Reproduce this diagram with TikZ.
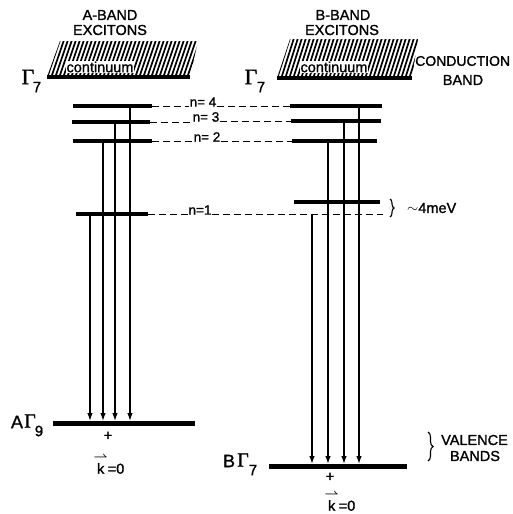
\documentclass[tikz,border=0pt]{standalone}
\usepackage{amsmath}
\usepackage{fontspec}
\setmainfont[FakeBold=1.3]{Liberation Sans}
\newfontfamily\serifgr[FakeBold=1.2]{Liberation Serif}
\usetikzlibrary{decorations.pathreplacing,arrows.meta}
\newcommand\kvecz{$\overset{\scalebox{0.85}{$\boldsymbol{\rightharpoonup}$}}{\mbox{k}}$=0}
\tikzset{
  lbl/.style={inner sep=0pt, font=\fontsize{14.5}{16}\selectfont},
  nlbl/.style={inner sep=0pt, font=\fontsize{13.5}{14}\selectfont},
  sub/.style={inner sep=0pt, font=\fontsize{15}{16}\selectfont},
  gam/.style={inner sep=0pt, font=\serifgr\fontsize{22}{24}\selectfont},
  level/.style={line width=3.2pt},
  band/.style={line width=4.6pt},
  vband/.style={line width=5pt},
  trans/.style={line width=1.2pt, -{Latex[length=8pt,width=5.5pt]}},
  dashl/.style={line width=1pt, dash pattern=on 7pt off 4pt},
  hatch/.style={line width=1.7pt},
  contbox/.style={fill=white, inner sep=1pt, font=\fontsize{14.5}{16}\selectfont},
  brc/.style={line width=1.1pt, decorate, decoration={brace, amplitude=4pt}}
}
\begin{document}
\begin{tikzpicture}[x=1pt, y=-1pt]
\useasboundingbox (0,0) rectangle (513,514);
% headings
\node[lbl] (ahead1) at (110,15) {A-BAND};
\node[lbl] (ahead2) at (110,30) {EXCITONS};
\node[lbl] (bhead1) at (343,15) {B-BAND};
\node[lbl] (bhead2) at (342,30) {EXCITONS};
\node[lbl, anchor=west, font=\fontsize{14}{16}\selectfont] (cond1) at (415,61) {CONDUCTION};
\node[lbl] (cond2) at (463,80) {BAND};
% hatching
\begin{scope}
\clip (47,77) -- (190,77) -- (198,41) -- (60,41) -- cycle;
\foreach \i in {0,...,40} \draw[hatch] ({35+\i*4},78) -- ++(13,-38);
\end{scope}
\begin{scope}
\clip (277,78) -- (412,78) -- (418,39) -- (290,39) -- cycle;
\foreach \i in {0,...,38} \draw[hatch] ({265+\i*4},79) -- ++(13,-41);
\end{scope}
\node[contbox] (conta) at (100,67) {continuum};
\node[contbox] (contb) at (334,67) {continuum};
% conduction band edges
\coordinate (ca1) at (47,77); \coordinate (ca2) at (190,77);
\coordinate (cb1) at (277,78); \coordinate (cb2) at (412,78);
\draw[band] (ca1) -- (ca2);
\draw[band] (cb1) -- (cb2);
\node[gam] (ga) at (28,77) {Γ};
\node[sub] (ga7) at (37,87) {7};
\node[gam] (gb) at (251,77) {Γ};
\node[sub] (gb7) at (261,87) {7};
% A levels
\coordinate (a4l) at (73,106); \coordinate (a4r) at (152,106);
\coordinate (a3l) at (72,122); \coordinate (a3r) at (150,122);
\coordinate (a2l) at (73,141); \coordinate (a2r) at (152,141);
\coordinate (a1l) at (76,214); \coordinate (a1r) at (148,214);
\draw[level] (a4l) -- (a4r);
\draw[level] (a3l) -- (a3r);
\draw[level] (a2l) -- (a2r);
\draw[level] (a1l) -- (a1r);
% B levels
\coordinate (b4l) at (290,106); \coordinate (b4r) at (382,106);
\coordinate (b3l) at (291,121); \coordinate (b3r) at (381,121);
\coordinate (b2l) at (292,141); \coordinate (b2r) at (377,141);
\coordinate (b1l) at (294,202); \coordinate (b1r) at (380,202);
\draw[level] (b4l) -- (b4r);
\draw[level] (b3l) -- (b3r);
\draw[level] (b2l) -- (b2r);
\draw[level] (b1l) -- (b1r);
% n labels and dashed lines
\node[nlbl] (n4) at (203,102) {n= 4};
\node[nlbl] (n3) at (206,117) {n= 3};
\node[nlbl] (n2) at (207,137) {n= 2};
\node[nlbl] (n1) at (200,210) {n=1};
\coordinate (d1e) at (383,214);
\draw[dashl] (a4r) -- (n4.west |- a4r);
\draw[dashl] (n4.east |- a4r) -- (b4l);
\draw[dashl] (a3r) -- (n3.west |- a3r);
\draw[dashl] (n3.east |- b3l) -- (b3l);
\draw[dashl] (a2r) -- (n2.west |- a2r);
\draw[dashl] (n2.east |- a2r) -- (b2l);
\draw[dashl] (a1r) -- (n1.west |- a1r);
\draw[dashl] (n1.east |- a1r) -- (d1e);
\coordinate (br1t) at (390,199); \coordinate (br1b) at (390,217);
\draw[brc] (br1t) -- (br1b);
\node[lbl, anchor=west] (mev) at (407,208) {$\sim$4meV};
% valence bands
\coordinate (va1) at (53,423); \coordinate (va2) at (195,423);
\coordinate (vb1) at (269,466); \coordinate (vb2) at (407,466);
\draw[vband] (va1) -- (va2);
\draw[vband] (vb1) -- (vb2);
% A transitions
\coordinate (ta4) at (130,106); \coordinate (ea4) at (130,421);
\coordinate (ta3) at (115,122); \coordinate (ea3) at (115,421);
\coordinate (ta2) at (103,141); \coordinate (ea2) at (103,421);
\coordinate (ta1) at (90,214);  \coordinate (ea1) at (90,421);
\draw[trans] (ta4) -- (ea4);
\draw[trans] (ta3) -- (ea3);
\draw[trans] (ta2) -- (ea2);
\draw[trans] (ta1) -- (ea1);
% B transitions
\coordinate (tb4) at (359,106); \coordinate (eb4) at (359,464);
\coordinate (tb3) at (344,121); \coordinate (eb3) at (344,464);
\coordinate (tb2) at (328,141); \coordinate (eb2) at (328,464);
\coordinate (tb1) at (312,214); \coordinate (eb1) at (312,464);
\draw[trans] (tb4) -- (eb4);
\draw[trans] (tb3) -- (eb3);
\draw[trans] (tb2) -- (eb2);
\draw[trans] (tb1) -- (eb1);
% valence labels
\node[lbl, font=\fontsize{18}{19}\selectfont] (aa) at (17,422) {A};
\node[gam, font=\serifgr\fontsize{20}{21}\selectfont] (ag) at (30,421) {Γ};
\node[sub] (ag9) at (39,431) {9};
\node[lbl, font=\fontsize{18}{19}\selectfont] (bb) at (229,461) {B};
\node[gam, font=\serifgr\fontsize{20}{21}\selectfont] (bg) at (243,460) {Γ};
\node[sub] (bg7) at (253,470) {7};
\node[lbl] (pa) at (108,436) {+};
\node[lbl] (pb) at (330,477) {+};
\node[lbl] (ka) at (109,464) {\kvecz};
\node[lbl] (kb) at (340,501) {\kvecz};
\coordinate (br2t) at (428,432); \coordinate (br2b) at (428,461);
\draw[brc, decoration={brace, amplitude=5pt}] (br2t) -- (br2b);
\node[lbl, anchor=west] (val1) at (441,440) {VALENCE};
\node[lbl] (val2) at (475,456) {BANDS};
\end{tikzpicture}
\end{document}
